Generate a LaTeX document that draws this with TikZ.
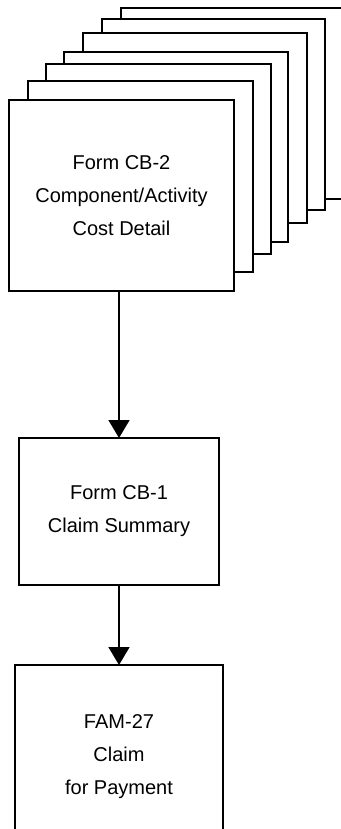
\documentclass[tikz,border=0pt]{standalone}
\usepackage{fontspec}
\setmainfont{Liberation Sans}
\usetikzlibrary{arrows.meta}
\begin{document}
\begin{tikzpicture}[x=1pt,y=-1pt,
  page/.style={draw=black,fill=white,line width=1.6pt},
  formbox/.style={draw=black,fill=white,line width=1.6pt,outer sep=0pt,inner sep=0pt,
    align=center,font=\fontsize{20}{33}\selectfont},
  txt/.style={align=center,font=\fontsize{20}{33}\selectfont,inner sep=0pt},
  arr/.style={line width=1.6pt,-{Triangle[width=21pt,length=18pt]}}]
\useasboundingbox[fill=white] (0,0) rectangle (340,829);
% stacked pages behind, back to front
\draw[page] (121,8) rectangle (350,199);
\draw[page] (102,19) rectangle (325,210);
\draw[page] (83,33) rectangle (307,223);
\draw[page] (64,52) rectangle (288,242);
\draw[page] (46,64) rectangle (271,254);
\draw[page] (28,81) rectangle (253,272);
% front form
\node[formbox,minimum width=225pt,minimum height=191pt] (cb2) at (121.5,195.5)
  {Form CB-2\\Component/Activity\\Cost Detail};
\node[formbox,minimum width=200pt,minimum height=147pt] (cb1) at (119,511.5)
  {Form CB-1\\Claim Summary};
\node[formbox,minimum width=208pt,minimum height=165pt] (fam) at (119,747.5) {};
\node[txt] (famtxt) at (119,757) {FAM-27\\Claim\\for Payment};
\draw[arr] (cb1.north |- cb2.south) -- (cb1.north);
\draw[arr] (fam.north |- cb1.south) -- (fam.north);
\end{tikzpicture}
\end{document}
